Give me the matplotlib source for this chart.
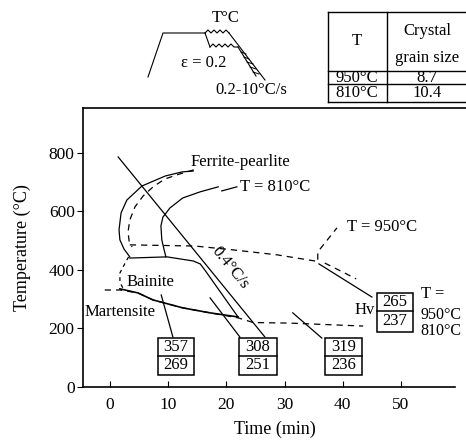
"""CCT diagram with Hv boxes, process schematic and grain size table."""
import matplotlib

matplotlib.use("Agg")
import matplotlib.pyplot as plt  # noqa: E402
from matplotlib.patches import Rectangle  # noqa: E402

plt.rcParams["font.family"] = ["Liberation Serif", "DejaVu Serif"]

# --- curves in (time min, temperature C) ---
fp_solid_t = [14.3, 12.4, 9.5, 5.5, 2.9, 1.9, 1.55, 1.7, 2.4, 3.4]
fp_solid_T = [737, 734, 720, 686, 638, 594, 536, 502, 471, 444]

fp_dash_t = [14.4, 12.0, 9.45, 7.4, 5.7, 4.3, 3.4, 3.1, 3.3, 3.8]
fp_dash_T = [741, 727, 710, 683, 652, 615, 570, 529, 495, 478]

bs_dash_t = [3.4, 14.6, 21.1, 28.7, 35.2, 35.7, 35.7, 39.0]
bs_dash_T = [485, 481, 468, 451, 430, 427, 461, 543]

fp810_t = [18.6, 15.5, 12.5, 10.3, 9.1, 8.75, 8.9, 9.3, 9.6]
fp810_T = [683, 666, 645, 611, 580, 550, 502, 468, 444]
lead810_t = [19.2, 21.8]
lead810_T = [669, 683]

bain_top_t = [3.4, 9.8, 14.3, 15.5, 16.3, 22.0]
bain_top_T = [440, 444, 430, 420, 399, 239]
bain_bot_t = [1.7, 4.8, 7.4, 12.5, 17.2, 22.0]
bain_bot_T = [335, 321, 297, 270, 253, 239]
bain_left_t = [3.2, 2.9, 1.7, 1.7, 2.2]
bain_left_T = [444, 434, 389, 358, 338]

ms_dash_t = [-0.9, 1.7, 4.8, 7.4, 12.5, 17.2, 22.0, 24.6, 30.9, 43.5]
ms_dash_T = [331, 331, 321, 297, 270, 253, 236, 220, 218, 208]

hv_solid_t = [35.9, 45.0]
hv_solid_T = [420, 307]
hv_dash_t = [36.9, 42.3]
hv_dash_T = [423, 369]

cool_t = [1.4, 26.6]
cool_T = [785, 171]

ptr_t = [[8.8, 10.8], [17.2, 22.3], [31.4, 36.4]]
ptr_T = [[314, 171], [304, 171], [253, 167]]

# Hv boxes
box_left = [8.25, 22.2, 36.9, 45.9]
box_right = [14.4, 28.7, 43.3, 52.1]
box_top = [167, 167, 167, 321]
box_mid = [106, 106, 106, 259]
box_bot = [41, 41, 41, 188]
hv_upper = ["357", "308", "319", "265"]
hv_lower = ["269", "251", "236", "237"]

xticks = [0, 10, 20, 30, 40, 50]
yticks = [0, 200, 400, 600, 800]

# --- schematic (figure pixel coords, y down) ---
sk_base_x = [148, 163, 205]
sk_base_y = [77, 33, 33]
sk_up_x = [205, 208, 211, 214, 217, 220, 223, 226, 229]
sk_up_y = [33, 30, 33, 30, 33, 30, 33, 30, 33]
sk_drop_x = [205, 210]
sk_drop_y = [33, 47]
sk_lo_x = [210, 213, 216, 219, 222, 225, 228, 231, 234, 238]
sk_lo_y = [47, 44, 47, 44, 47, 44, 47, 44, 47, 47]
sk_cool_x = [229, 265]
sk_cool_y = [33, 80]
sk_cool2_x = [238, 256]
sk_cool2_y = [47, 76]
hatch_x0 = [241, 244, 247, 250, 253]
hatch_x1 = [246, 249, 253, 256, 259]
hatch_y = [52, 57, 62, 67, 72]

# --- grain size table ---
tab_rows = ["950°C", "810°C"]
tab_vals = ["8.7", "10.4"]
tab_hlines = [12, 71, 84, 102]
tab_vlines = [328, 387]

fig = plt.figure(figsize=(4.66, 4.4), dpi=100)
ax = fig.add_axes([83 / 466, 53 / 440, 383 / 466, 279 / 440])
ax.set_xlim(-4.64, 61.17)
ax.set_ylim(0, 952)

lw = 0.9
dash = (5, 4)
k = "black"
ax.plot(fp_solid_t, fp_solid_T, color=k, lw=lw)
ax.plot(fp_dash_t, fp_dash_T, color=k, lw=lw, ls="--", dashes=dash)
ax.plot(bs_dash_t, bs_dash_T, color=k, lw=lw, ls="--", dashes=dash)
ax.plot(fp810_t, fp810_T, color=k, lw=lw)
ax.plot(lead810_t, lead810_T, color=k, lw=lw)
ax.plot(bain_top_t, bain_top_T, color=k, lw=lw)
ax.plot(bain_bot_t, bain_bot_T, color=k, lw=lw * 1.3)
ax.plot(bain_left_t, bain_left_T, color=k, lw=lw, ls="--", dashes=(3, 3))
ax.plot(ms_dash_t, ms_dash_T, color=k, lw=lw, ls="--", dashes=dash)
ax.plot(hv_solid_t, hv_solid_T, color=k, lw=lw)
ax.plot(hv_dash_t, hv_dash_T, color=k, lw=lw, ls="--", dashes=dash)
ax.plot(cool_t, cool_T, color=k, lw=lw)
for pt, pT in zip(ptr_t, ptr_T):
    ax.plot(pt, pT, color=k, lw=lw)

for l, r, t, m, b, u, lo in zip(box_left, box_right, box_top, box_mid, box_bot,
                                hv_upper, hv_lower):
    ax.add_patch(Rectangle((l, b), r - l, t - b, fill=False, ec=k, lw=1.1))
    ax.plot([l, r], [m, m], color=k, lw=1.1)
    ax.text((l + r) / 2, (t + m) / 2, u, ha="center", va="center", fontsize=12)
    ax.text((l + r) / 2, (m + b) / 2, lo, ha="center", va="center", fontsize=12)

fs = 12
ax.text(13.75, 768, "Ferrite-pearlite", fontsize=fs, va="center")
ax.text(22.3, 683, "T = 810°C", fontsize=fs, va="center")
ax.text(40.7, 546, "T = 950°C", fontsize=fs, va="center")
ax.text(2.9, 358, "Bainite", fontsize=fs, va="center")
ax.text(-4.3, 256, "Martensite", fontsize=fs, va="center")
ax.text(45.6, 263, "Hv", fontsize=fs, va="center", ha="right")
ax.text(53.4, 316, "T =", fontsize=fs, va="center")
ax.text(53.4, 244, "950°C", fontsize=11.5, va="center")
ax.text(53.4, 190, "810°C", fontsize=11.5, va="center")
ax.text(20.7, 408, "0.4°C/s", fontsize=fs, va="center", ha="center",
        rotation=-51, rotation_mode="anchor")

ax.set_xticks(xticks)
ax.set_yticks(yticks)
ax.tick_params(axis="x", direction="in", length=4, labelsize=12.5, pad=7)
ax.tick_params(axis="y", direction="out", length=4, labelsize=12.5, pad=2)
ax.spines["right"].set_visible(False)
ax.spines["bottom"].set_bounds(-4.64, 59.3)
for s in ("left", "bottom", "top"):
    ax.spines[s].set_linewidth(1.2)
ax.set_xlabel("Time (min)", fontsize=13, labelpad=6)
ax.set_ylabel("Temperature (°C)", fontsize=13, labelpad=13)

# overlay for schematic and table, in pixel coords
ov = fig.add_axes([0, 0, 1, 1])
ov.set_xlim(0, 466)
ov.set_ylim(440, 0)
ov.axis("off")
ov.patch.set_alpha(0)
for xs, ys in [(sk_base_x, sk_base_y), (sk_up_x, sk_up_y), (sk_drop_x, sk_drop_y),
               (sk_lo_x, sk_lo_y), (sk_cool_x, sk_cool_y), (sk_cool2_x, sk_cool2_y)]:
    ov.plot(xs, ys, color=k, lw=0.8)
for x0, x1, y in zip(hatch_x0, hatch_x1, hatch_y):
    ov.plot([x0, x1], [y, y + 2], color=k, lw=0.7)
ov.text(226, 18, "T°C", fontsize=12, ha="center", va="center")
ov.text(204, 63, "ε = 0.2", fontsize=12, ha="center", va="center")
ov.text(215, 90, "0.2-10°C/s", fontsize=12, ha="left", va="center")

for y in tab_hlines:
    ov.plot([tab_vlines[0], 466], [y, y], color=k, lw=1.0)
for x in tab_vlines:
    ov.plot([x, x], [tab_hlines[0], tab_hlines[-1]], color=k, lw=1.0)
ov.text(357, 41, "T", fontsize=12, ha="center", va="center")
ov.text(427, 31, "Crystal", fontsize=12, ha="center", va="center")
ov.text(427, 58, "grain size", fontsize=12, ha="center", va="center")
row_y = [(tab_hlines[1] + tab_hlines[2]) / 2, (tab_hlines[2] + tab_hlines[3]) / 2]
for name, val, y in zip(tab_rows, tab_vals, row_y):
    ov.text(357, y, name, fontsize=12, ha="center", va="center")
    ov.text(427, y, val, fontsize=12, ha="center", va="center")

fig.savefig("out.png", dpi=100)
